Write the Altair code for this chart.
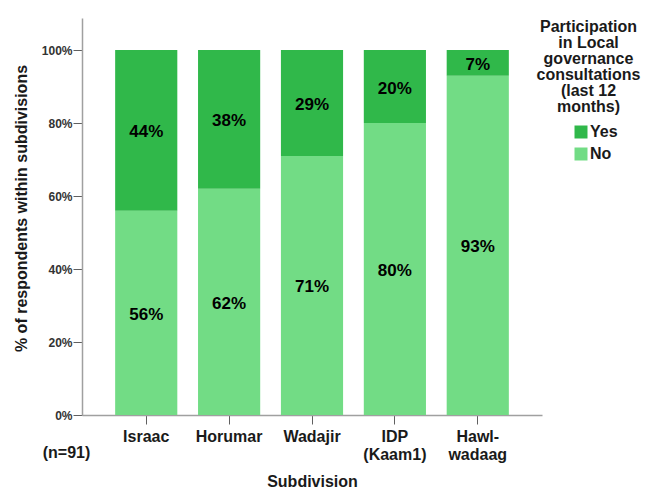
import altair as alt
import pandas as pd

# ---- data ----
subdivisions = ["Israac", "Horumar", "Wadajir", "IDP (Kaam1)", "Hawl-wadaag"]
no_pct = [56, 62, 71, 80, 93]
yes_pct = [44, 38, 29, 20, 7]
answers = ["Yes", "No"]
answer_colors = ["#30b84a", "#72dc85"]
y_ticks = [0, 0.2, 0.4, 0.6, 0.8, 1.0]
legend_title = "Participation\nin Local\ngovernance\nconsultations\n(last 12\nmonths)"
n_note = "(n=91)"

rows = []
for s, n, y in zip(subdivisions, no_pct, yes_pct):
    rows.append({"subdivision": s, "answer": "No", "value": n / 100, "order": 0})
    rows.append({"subdivision": s, "answer": "Yes", "value": y / 100, "order": 1})
df = pd.DataFrame(rows)

FONT = "Liberation Sans"
TXT = "#1a1a1a"

label_expr = ("datum.label == 'IDP (Kaam1)' ? ['IDP', '(Kaam1)'] : "
              "datum.label == 'Hawl-wadaag' ? ['Hawl-', 'wadaag'] : datum.label")

x_enc = alt.X(
    "subdivision:N",
    sort=subdivisions,
    scale=alt.Scale(paddingInner=0.25, paddingOuter=0.40),
    axis=alt.Axis(
        title="Subdivision", labelAngle=0, labelExpr=label_expr,
        labelFont=FONT, labelFontSize=16, labelFontWeight="bold", labelColor=TXT,
        labelLineHeight=18, labelPadding=4, tickSize=9,
        titleFont=FONT, titleFontSize=16, titleFontWeight="bold", titleColor=TXT,
        titleBaseline="alphabetic", titleY=71,
    ),
)

y_scale = alt.Scale(domain=[0, 1.088], nice=False, zero=True)
y_axis = alt.Axis(
    title="% of respondents within subdivisions", values=y_ticks, format=".0%",
    labelFont=FONT, labelFontSize=12, labelFontWeight="bold", labelColor="#333333",
    labelPadding=1, tickSize=9, grid=False,
    titleFont=FONT, titleFontSize=16, titleFontWeight="bold", titleColor=TXT,
    titleX=-53, titleY=190,
)

base = alt.Chart(df).transform_stack(
    stack="value", groupby=["subdivision"], as_=["v0", "v1"],
    sort=[alt.SortField("order", order="ascending")],
).transform_calculate(mid="(datum.v0 + datum.v1) / 2")

bars = base.mark_bar().encode(
    x=x_enc,
    y=alt.Y("v0:Q", scale=y_scale, axis=y_axis),
    y2="v1:Q",
    color=alt.Color(
        "answer:N",
        scale=alt.Scale(domain=answers, range=answer_colors),
        legend=alt.Legend(
            title=None, orient="none", legendX=491, legendY=106,
            symbolType="square", symbolSize=169, symbolStrokeWidth=0,
            labelFont=FONT, labelFontSize=16, labelFontWeight="bold", labelColor=TXT,
            labelOffset=1, rowPadding=6, padding=0,
        ),
    ),
)

labels = base.mark_text(
    font=FONT, fontSize=17, fontWeight="bold", color="black", baseline="middle", dy=2
).encode(
    x=x_enc,
    y=alt.Y("mid:Q", scale=y_scale, axis=y_axis),
    text=alt.Text("value:Q", format=".0%"),
)

title_text = alt.Chart(pd.DataFrame({"t": [legend_title]})).mark_text(
    font=FONT, fontSize=16, fontWeight="bold", color=TXT, align="center",
    baseline="alphabetic", lineBreak="\n", lineHeight=16,
).encode(text="t:N", x=alt.value(506.5), y=alt.value(14.3))

note_text = alt.Chart(pd.DataFrame({"t": [n_note]})).mark_text(
    font=FONT, fontSize=16, fontWeight="bold", color=TXT, align="center",
    baseline="middle",
).encode(text="t:N", x=alt.value(-15.5), y=alt.value(435))

chart = alt.layer(bars, labels, title_text, note_text).properties(
    width=460, height=397,
    padding={"left": 74, "top": 10, "right": 110, "bottom": 74},
    autosize=alt.AutoSizeParams(type="none"),
).configure_view(stroke=None).configure_axis(
    domainColor="#a0a0a0", tickColor="#606060", domainWidth=1.5
)

chart.save("out.html", embed_options={"renderer": "svg", "actions": False})
